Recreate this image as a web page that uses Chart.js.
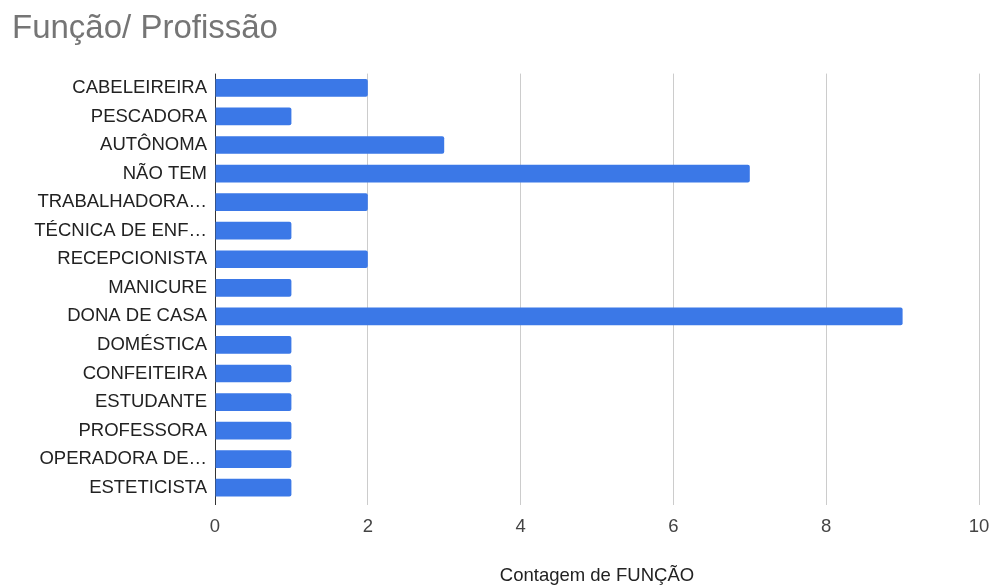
<!DOCTYPE html>
<html>
<head>
<meta charset="utf-8">
<script src="https://cdn.jsdelivr.net/npm/chart.js@4.4.1/dist/chart.umd.min.js"></script>
<style>
  html, body { margin: 0; padding: 0; background: #fff; }
  #wrap { width: 992px; height: 588px; }
</style>
</head>
<body>
<div id="wrap"><canvas id="chart"></canvas></div>
<script>
var categories = ['CABELEIREIRA', 'PESCADORA', 'AUTÔNOMA', 'NÃO TEM', 'TRABALHADORA…',
  'TÉCNICA DE ENF…', 'RECEPCIONISTA', 'MANICURE', 'DONA DE CASA', 'DOMÉSTICA',
  'CONFEITEIRA', 'ESTUDANTE', 'PROFESSORA', 'OPERADORA DE…', 'ESTETICISTA'];
var counts = [2, 1, 3, 7, 2, 1, 2, 1, 9, 1, 1, 1, 1, 1, 1];
var xTicks = [0, 2, 4, 6, 8, 10];

var font = '"Liberation Sans", Arial, sans-serif';

new Chart(document.getElementById('chart'), {
  type: 'bar',
  data: {
    labels: categories,
    datasets: [{
      label: 'Contagem de FUNÇÃO',
      data: counts,
      backgroundColor: '#3b78e7',
      borderRadius: 2,
      categoryPercentage: 1,
      barPercentage: 0.62
    }]
  },
  options: {
    indexAxis: 'y',
    responsive: true,
    maintainAspectRatio: false,
    animation: false,
    layout: { padding: { left: 12, right: 13, top: 0, bottom: 0 } },
    plugins: {
      legend: { display: false },
      tooltip: { enabled: false },
      title: {
        display: true,
        text: 'Função/ Profissão',
        align: 'start',
        color: '#757575',
        font: { family: font, size: 33, weight: 'normal' },
        padding: { top: 9, bottom: 25 }
      }
    },
    scales: {
      x: {
        min: xTicks[0],
        max: xTicks[xTicks.length - 1],
        afterBuildTicks: function (scale) {
          scale.ticks = xTicks.map(function (v) { return { value: v }; });
        },
        afterFit: function (scale) {
          scale.height = 86;
          scale.paddingLeft = 0;
          scale.paddingRight = 0;
        },
        border: { display: false },
        grid: {
          color: function (ctx) { return ctx.tick && ctx.tick.value === 0 ? '#333' : '#cccccc'; },
          tickLength: 3
        },
        ticks: {
          color: '#444',
          padding: 11,
          maxRotation: 0,
          font: { family: font, size: 18.5 }
        },
        title: {
          display: true,
          text: 'Contagem de FUNÇÃO',
          color: '#222',
          font: { family: font, size: 18.5 },
          padding: { top: 0, bottom: 1 }
        }
      },
      y: {
        afterFit: function (scale) { scale.width = 203; },
        border: { display: false },
        grid: { display: false, drawTicks: false },
        ticks: {
          color: '#222',
          padding: 8,
          autoSkip: false,
          font: { family: font, size: 18.5 }
        }
      }
    }
  }
});
</script>
</body>
</html>
